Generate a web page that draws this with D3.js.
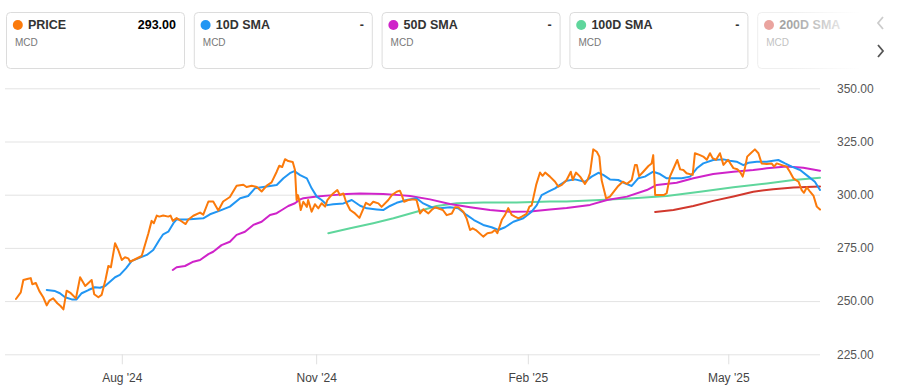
<!DOCTYPE html>
<html><head><meta charset="utf-8">
<script src="https://cdn.jsdelivr.net/npm/d3@7"></script>
<style>
body{margin:0;background:#fff;font-family:"Liberation Sans",Arial,sans-serif;}
svg{display:block}
</style>
</head><body>
<svg id="c" width="900" height="391"></svg>
<script>
// [trading-day index, value]
const price = [[0.3,251.0],[1.8,254.1],[2.6,259.9],[4.1,260.5],[4.9,260.8],[5.4,257.9],[6.5,258.5],[7.6,254.7],[8.8,251.8],[9.9,248.0],[10.7,250.2],[11.9,251.3],[13.2,249.0],[14.2,247.7],[15.1,246.1],[16.1,254.9],[17.4,253.7],[19.0,251.3],[20.3,261.2],[21.9,257.1],[23.9,259.9],[24.7,253.2],[26.0,251.8],[27.0,252.9],[28.2,259.9],[29.1,266.5],[29.9,265.9],[31.2,277.2],[32.2,274.0],[33.3,269.3],[34.3,270.6],[35.3,270.1],[35.9,268.5],[39.5,271.2],[41.6,281.9],[42.6,287.7],[43.3,286.6],[44.2,290.2],[45.0,289.7],[46.2,290.2],[47.8,289.7],[48.5,290.2],[49.2,287.7],[50.4,289.0],[52.0,287.4],[53.2,286.2],[54.0,288.2],[55.6,290.1],[57.7,291.6],[58.7,290.6],[60.3,296.8],[61.8,296.8],[63.4,292.6],[64.9,296.8],[67.0,298.9],[69.1,304.2],[71.2,304.7],[72.2,303.6],[73.8,304.2],[75.4,303.6],[76.9,301.5],[78.5,304.3],[80.0,305.8],[81.6,310.8],[82.4,313.6],[83.3,313.0],[84.2,316.7],[85.2,315.8],[86.6,315.4],[87.3,311.6],[87.8,297.5],[88.2,299.8],[88.6,297.5],[89.1,292.8],[89.9,296.7],[91.0,294.3],[91.4,297.5],[92.5,292.0],[93.5,295.5],[94.6,293.6],[95.6,296.0],[96.7,294.4],[97.4,297.5],[98.2,299.0],[99.2,300.6],[100.5,302.2],[101.3,299.8],[102.4,300.6],[103.2,296.7],[104.5,292.8],[106.0,291.2],[107.4,289.1],[109.4,296.2],[110.7,295.1],[111.7,296.7],[113.3,295.9],[114.3,294.3],[116.4,297.5],[117.5,299.8],[119.0,301.4],[120.0,301.9],[120.6,299.8],[121.3,296.7],[122.6,297.5],[124.2,297.8],[125.2,297.5],[126.3,291.2],[127.3,293.1],[128.9,291.2],[129.9,292.8],[131.0,294.1],[133.4,292.8],[134.6,290.4],[136.2,291.2],[137.2,294.1],[138.2,294.1],[139.8,292.0],[140.8,288.9],[141.9,283.4],[142.7,284.2],[143.7,283.4],[146.0,280.3],[147.3,281.9],[148.6,282.2],[149.7,283.4],[150.4,281.9],[151.8,288.2],[152.8,290.5],[153.8,293.7],[154.9,290.5],[155.9,289.7],[157.0,288.9],[158.0,289.7],[159.5,291.0],[160.4,294.4],[161.1,295.0],[162.5,304.6],[163.7,310.4],[164.5,308.9],[165.3,310.4],[166.8,308.5],[168.4,306.1],[169.4,303.8],[170.5,304.6],[172.0,306.9],[173.3,310.8],[173.9,306.9],[174.9,310.4],[176.2,308.5],[177.7,305.1],[178.5,306.9],[179.3,310.1],[180.3,321.3],[181.4,320.2],[182.2,317.9],[182.9,306.9],[184.3,298.3],[185.5,299.1],[188.1,304.1],[189.5,306.1],[190.8,305.1],[192.3,306.9],[193.3,313.9],[193.9,313.9],[194.6,308.7],[195.9,310.8],[197.5,313.5],[198.5,314.7],[199.0,318.6],[199.6,299.9],[201.1,299.9],[202.4,299.9],[203.2,300.7],[204.2,308.5],[205.5,312.9],[206.5,316.3],[207.4,311.9],[208.4,311.6],[209.4,310.1],[211.3,309.3],[212.0,319.5],[213.4,318.7],[214.6,317.9],[215.7,316.4],[216.7,319.5],[217.5,317.2],[218.6,316.4],[219.8,319.5],[220.9,314.0],[222.3,316.4],[224.0,312.5],[225.2,312.0],[226.1,310.7],[226.9,308.5],[227.6,312.5],[228.3,317.9],[229.4,319.5],[230.7,321.3],[231.8,319.5],[232.8,314.7],[234.4,314.4],[235.9,314.7],[236.7,313.2],[237.5,314.7],[239.1,313.9],[240.6,313.2],[241.6,310.8],[242.7,307.7],[244.3,306.1],[245.3,302.2],[246.0,300.9],[246.9,303.5],[247.9,301.4],[249.0,299.4],[250.0,294.4],[251.0,293.0]];

const sma10 = [[9.9,255.2],[12.5,254.7],[14.0,253.7],[15.6,251.8],[17.7,250.8],[19.2,250.8],[20.8,253.7],[22.9,255.2],[24.9,256.5],[26.5,256.3],[28.1,257.1],[29.6,259.1],[31.2,261.2],[32.7,262.3],[34.6,265.4],[36.4,268.9],[38.4,270.1],[41.1,271.7],[43.1,274.0],[45.0,278.7],[46.2,281.4],[47.8,282.6],[49.4,286.6],[50.4,288.4],[53.5,288.4],[58.7,288.9],[60.8,290.8],[63.9,292.5],[67.0,294.4],[70.2,298.3],[72.7,299.4],[74.8,303.0],[78.5,303.9],[81.6,304.6],[83.7,307.7],[85.7,310.1],[87.1,311.1],[88.9,309.2],[91.0,307.7],[92.5,303.0],[94.1,299.1],[95.6,297.5],[97.4,295.1],[99.2,295.5],[102.4,295.9],[105.0,297.5],[107.6,294.8],[109.7,293.6],[112.8,293.1],[114.8,292.8],[116.9,294.7],[119.0,296.2],[122.1,297.5],[125.2,298.3],[127.3,295.9],[129.9,294.1],[132.5,293.6],[135.6,294.1],[138.2,293.6],[140.8,290.5],[143.1,288.1],[146.0,285.8],[148.6,284.7],[150.7,283.4],[152.8,284.7],[155.4,287.3],[158.5,288.9],[161.1,292.0],[162.7,295.1],[164.2,299.8],[166.3,301.4],[168.4,303.0],[169.9,304.6],[172.0,306.6],[174.6,307.2],[177.7,306.1],[179.8,308.5],[181.9,310.3],[183.4,309.3],[185.5,307.2],[188.1,306.9],[190.2,305.3],[192.3,304.1],[194.3,307.7],[196.4,308.5],[199.0,310.8],[201.1,309.7],[203.2,307.7],[207.9,307.7],[210.5,308.5],[212.6,312.4],[214.6,314.7],[217.7,316.3],[220.9,316.6],[222.9,316.0],[225.0,315.5],[227.1,313.9],[228.7,315.0],[231.3,315.5],[234.4,315.5],[236.4,316.0],[238.0,316.3],[240.1,314.7],[242.2,313.2],[244.8,311.6],[247.4,308.5],[249.4,306.1],[251.0,302.2]];

const sma50 = [[49.2,264.6],[50.4,265.9],[53.0,266.5],[55.6,268.5],[57.7,269.3],[60.3,272.1],[61.8,273.2],[64.4,276.3],[67.0,277.9],[69.1,281.1],[71.7,282.6],[74.3,285.8],[76.9,287.3],[79.5,290.5],[81.6,291.3],[83.2,292.8],[85.2,294.7],[87.3,296.0],[88.9,297.8],[89.9,298.3],[94.1,299.1],[99.2,299.8],[103.4,300.3],[107.6,300.6],[114.8,300.3],[120.0,299.8],[123.2,299.4],[129.4,297.8],[135.6,295.6],[141.9,294.1],[148.1,292.8],[154.3,292.0],[160.6,292.1],[166.8,293.0],[172.0,293.7],[179.3,295.2],[184.6,297.5],[190.8,299.1],[197.0,302.2],[200.1,304.6],[206.3,305.6],[211.5,307.7],[217.7,309.7],[224.0,310.8],[230.2,311.6],[234.4,312.4],[240.6,313.2],[245.8,312.7],[251.0,311.3]];

const sma100 = [[97.7,281.9],[104.5,284.2],[111.7,286.6],[118.0,288.9],[125.2,292.0],[131.5,294.7],[137.7,296.0],[146.0,296.3],[156.4,296.3],[166.8,296.8],[172.0,296.8],[182.4,297.5],[192.8,298.3],[203.2,299.4],[213.6,301.4],[224.0,303.5],[234.4,305.3],[242.7,306.9],[251.0,308.0]];

const sma200 = [[199.6,291.9],[205.3,292.8],[211.5,294.7],[217.7,297.1],[224.0,299.2],[230.2,301.4],[236.4,302.6],[242.7,303.4],[251.0,303.9]];

const yTicks = [225, 250, 275, 300, 325, 350];
const xTickPos = [33.3, 93.9, 159.9, 222.4];
const xTickLabels = ["Aug '24", "Nov '24", "Feb '25", "May '25"];

const legendTitles = ["PRICE", "10D SMA", "50D SMA", "100D SMA", "200D SMA"];
const legendValues = ["293.00", "-", "-", "-", ""];
const legendSymbol = "MCD";
const colors = ["#fb7a0b", "#2196f3", "#cf23c9", "#5fd69c", "#d1382d"];

const svg = d3.select("#c");
const x = d3.scaleLinear().domain([0, 251]).range([15, 820]);
const y = d3.scaleLinear().domain([225, 350]).range([354.3, 88.3]);

// y axis + grid
const ya = svg.append("g").attr("transform", "translate(820,0)")
  .call(d3.axisRight(y).tickValues(yTicks).tickSize(-815).tickPadding(17).tickFormat(d3.format(".2f")));
ya.select(".domain").remove();
ya.selectAll("line").attr("stroke", "#e3e3e3").attr("stroke-width", 1);
ya.selectAll("text").attr("fill", "#555").style("font-size", "12px").style("font-family", "'Liberation Sans',Arial,sans-serif");

// x axis
const xa = svg.append("g").attr("transform", "translate(0,354.3)")
  .call(d3.axisBottom(x).tickValues(xTickPos).tickSize(10).tickPadding(9).tickFormat((d, i) => xTickLabels[i]));
xa.select(".domain").remove();
xa.selectAll("line").attr("stroke", "#e0e0e0");
xa.selectAll("text").attr("fill", "#444").style("font-size", "12px").style("font-family", "'Liberation Sans',Arial,sans-serif");

const line = d3.line().x(d => x(d[0])).y(d => y(d[1]));
const series = [price, sma10, sma50, sma100, sma200];
const order = [3, 4, 2, 1, 0];
order.forEach(i => {
  svg.append("path").datum(series[i]).attr("d", line)
    .attr("fill", "none").attr("stroke", colors[i]).attr("stroke-width", 2)
    .attr("stroke-linejoin", "round").attr("stroke-linecap", "round");
});

// legend cards
const cards = svg.append("g");
legendTitles.forEach((t, i) => {
  const x0 = 6 + i * 187.8;
  const g = cards.append("g").attr("transform", `translate(${x0},12)`)
    .attr("opacity", i === 4 ? 0.45 : 1);
  g.append("rect").attr("x", 0.5).attr("y", 0.5).attr("width", 178).attr("height", 56)
    .attr("rx", 4).attr("fill", "#fff").attr("stroke", "#dcdcdc");
  g.append("circle").attr("cx", 11.8).attr("cy", 13).attr("r", 5).attr("fill", colors[i]);
  g.append("text").attr("x", 22).attr("y", 17).text(t)
    .attr("fill", "#333").style("font-weight", "bold").style("font-size", "12.5px");
  g.append("text").attr("x", 9).attr("y", 34).text(legendSymbol)
    .attr("fill", "#777").style("font-size", "10px");
  g.append("text").attr("x", 170).attr("y", 17).attr("text-anchor", "end").text(legendValues[i])
    .attr("fill", i === 0 ? "#000" : "#333").style("font-weight", "bold").style("font-size", "12.5px");
});
// fade on the right side
const defs = svg.append("defs");
const grad = defs.append("linearGradient").attr("id", "fade").attr("x1", 0).attr("x2", 1);
grad.append("stop").attr("offset", 0).attr("stop-color", "#fff").attr("stop-opacity", 0);
grad.append("stop").attr("offset", 1).attr("stop-color", "#fff").attr("stop-opacity", 1);
svg.append("rect").attr("x", 790).attr("y", 5).attr("width", 70).attr("height", 70).attr("fill", "url(#fade)");
svg.append("rect").attr("x", 860).attr("y", 5).attr("width", 40).attr("height", 70).attr("fill", "#fff");

// nav arrows
svg.append("polyline").attr("points", "883,17 878,23 883,29").attr("fill", "none")
  .attr("stroke", "#ccc").attr("stroke-width", 1.8);
svg.append("polyline").attr("points", "878,45 883,51 878,57").attr("fill", "none")
  .attr("stroke", "#555").attr("stroke-width", 1.8);
</script>
</body></html>
